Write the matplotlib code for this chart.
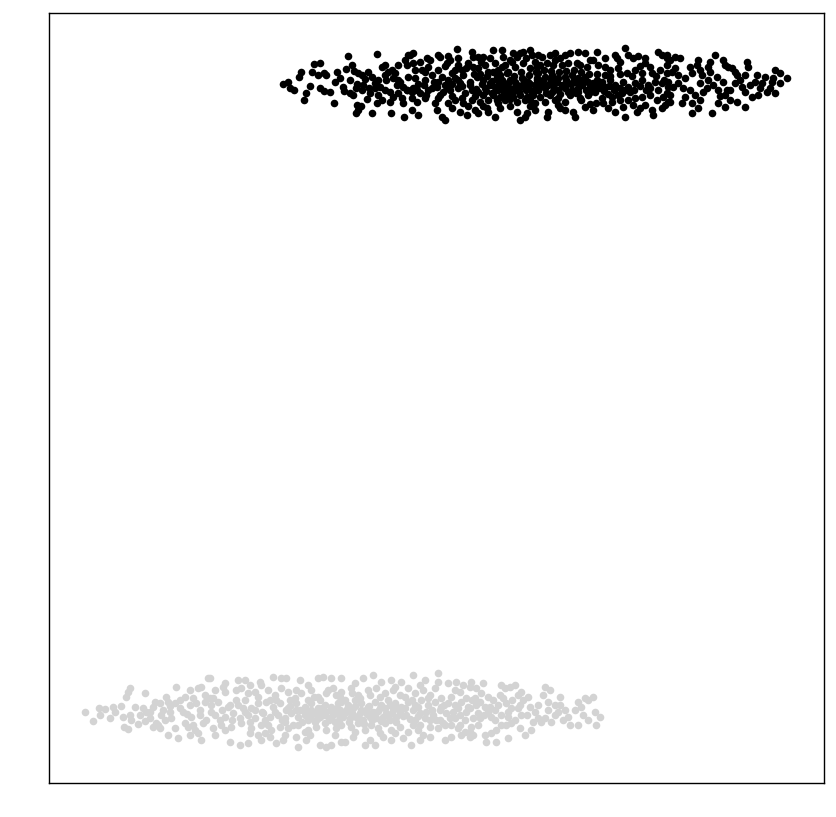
import numpy as np
from matplotlib import pyplot as plt

# point positions (x to the right, y downwards)
black_points = [
    (283, 84), (288, 82), (290, 88), (294, 90), (301, 72), (299, 77), (314, 64), (320, 63), (312, 72), (318, 75),
    (324, 73), (326, 75), (310, 86), (306, 93), (304, 100), (320, 88), (324, 91), (334, 103), (335, 82), (337, 72),
    (348, 56), (346, 69), (352, 65), (354, 71), (358, 73), (362, 75), (343, 87), (344, 91), (350, 93), (353, 95),
    (357, 84), (356, 88), (365, 79), (363, 85), (369, 88), (370, 93), (367, 99), (357, 105), (361, 106), (358, 110),
    (356, 113), (372, 113), (377, 54), (372, 77), (375, 83), (378, 80), (382, 67), (385, 65), (388, 72), (380, 87),
    (385, 90), (378, 95), (382, 100), (377, 103), (392, 70), (395, 73), (393, 78), (398, 80), (397, 85), (390, 92),
    (393, 97), (390, 102), (398, 93), (402, 98), (403, 103), (391, 113), (404, 117), (405, 60), (408, 55), (403, 87),
    (407, 90),
    (410, 55), (413, 53), (427, 58), (438, 55), (440, 57), (448, 56), (457, 49), (458, 58), (472, 52), (473, 57),
    (478, 57), (483, 57), (493, 50), (502, 50), (503, 57), (513, 53), (517, 57), (520, 53), (523, 52), (530, 50),
    (532, 55), (538, 55),
    (407, 65), (413, 63), (420, 62), (422, 70), (428, 67), (438, 70), (447, 63), (450, 60), (458, 65), (462, 70),
    (468, 63), (473, 67), (478, 68), (485, 65), (488, 72), (495, 63), (502, 67), (505, 65), (508, 72), (515, 67),
    (523, 63), (530, 68), (537, 67),
    (408, 77), (415, 78), (425, 80), (432, 75), (442, 77), (448, 80), (455, 78), (463, 75), (470, 82), (477, 77),
    (483, 80), (490, 83), (497, 77), (502, 80), (508, 83), (515, 82), (522, 78), (528, 82), (537, 80),
    (407, 90), (413, 88), (420, 93), (428, 90), (437, 87), (443, 92), (450, 90), (458, 88), (465, 93), (472, 90),
    (478, 92), (485, 88), (492, 93), (498, 90), (505, 88), (512, 93), (518, 90), (525, 88), (532, 93), (538, 90),
    (490, 85), (495, 87), (502, 85), (508, 87), (515, 87), (522, 85), (528, 87), (535, 85),
    (493, 95), (500, 97), (507, 95), (513, 97), (520, 95), (527, 97), (533, 95),
    (412, 98), (417, 102), (425, 98), (435, 103), (438, 98), (448, 103), (455, 100), (463, 103), (472, 100), (480, 102),
    (488, 100), (498, 103), (505, 100), (517, 102), (525, 100), (535, 103),
    (412, 110), (418, 115), (437, 110), (442, 117), (445, 120), (452, 108), (460, 112), (467, 115), (475, 110), (478, 113),
    (487, 108), (488, 112), (495, 117), (517, 112), (520, 120), (525, 117), (527, 113), (535, 110),
    (542, 57), (550, 55), (555, 53), (560, 58), (565, 55), (570, 53), (578, 52), (585, 53), (597, 52), (593, 60),
    (615, 55), (617, 58), (625, 48), (628, 55), (633, 58), (645, 63), (645, 58), (650, 67), (658, 52), (662, 55),
    (667, 58),
    (540, 65), (547, 63), (553, 65), (562, 65), (568, 63), (577, 63), (587, 67), (598, 65), (605, 67), (610, 70),
    (618, 68), (627, 73), (635, 70), (642, 73), (652, 73), (660, 70), (667, 73),
    (538, 73), (545, 77), (552, 75), (558, 78), (565, 77), (572, 75), (578, 78), (585, 77), (542, 83), (548, 85),
    (555, 82), (562, 85), (568, 83), (575, 82), (582, 85), (538, 90), (545, 88), (552, 92), (558, 90), (565, 88),
    (572, 90), (578, 88),
    (588, 82), (593, 83), (597, 80), (602, 82), (605, 87), (610, 80), (615, 85), (623, 82), (628, 87), (635, 83),
    (642, 80), (648, 85), (655, 82), (662, 83), (668, 87),
    (540, 97), (550, 95), (558, 98), (565, 102), (570, 95), (580, 98), (588, 95), (595, 92), (602, 98), (612, 97),
    (622, 93), (630, 92), (635, 98), (642, 97), (650, 95), (657, 100), (663, 97), (668, 102),
    (548, 112), (547, 117), (558, 105), (565, 110), (573, 112), (575, 117), (585, 107), (593, 110), (603, 103), (608, 108),
    (615, 112), (623, 107), (625, 117), (633, 105), (637, 112), (645, 105), (652, 110), (653, 115), (662, 108), (665, 105),
    (667, 55), (670, 60), (675, 57), (680, 58), (667, 65), (672, 72), (668, 82), (673, 87), (667, 93), (670, 102),
    (682, 103), (678, 83), (683, 88), (685, 97), (690, 67), (692, 73), (697, 65), (698, 60), (702, 75), (700, 83),
    (703, 92), (707, 88), (708, 80), (708, 67), (710, 62), (715, 55), (717, 77), (718, 90), (723, 60), (725, 65),
    (728, 67), (732, 68), (723, 82), (727, 90), (725, 95), (730, 100), (735, 72), (737, 75), (735, 83), (742, 87),
    (745, 92), (747, 62), (748, 67), (757, 75), (755, 82), (762, 83), (765, 77), (767, 92), (772, 82), (775, 70),
    (780, 73), (773, 78), (787, 78), (775, 93), (780, 83), (692, 103), (698, 108), (692, 113), (712, 113), (718, 103),
    (725, 107), (737, 102), (745, 107), (752, 97), (758, 95),
    # dense core
    (470, 85), (476, 89), (482, 84), (486, 91), (492, 81), (496, 90), (499, 82), (504, 92), (510, 80), (511, 90),
    (516, 84), (519, 92), (524, 80), (526, 90), (530, 84), (533, 91), (537, 78), (540, 86), (543, 80), (546, 93),
    (549, 84), (551, 79), (554, 88), (557, 82), (560, 94), (562, 86), (566, 80), (568, 92), (571, 84), (574, 79),
    (576, 93), (579, 85), (583, 80), (586, 90), (590, 85), (594, 88), (599, 84), (604, 91), (609, 86), (614, 90),
    (620, 88), (480, 74), (487, 76), (493, 72), (500, 75), (507, 73), (514, 76), (521, 72), (529, 75), (536, 72),
    (544, 70), (551, 71), (559, 72), (566, 71), (574, 70), (581, 72), (589, 74), (597, 74), (445, 85), (452, 84),
    (460, 83), (432, 88), (424, 85), (417, 90), (400, 82), (386, 80), (375, 88), (362, 90), (455, 70), (440, 95),
    (462, 98), (581, 100), (596, 103), (612, 102), (628, 100), (650, 88), (678, 75), (700, 70), (713, 85), (740, 80),
    (760, 88),
    (415, 70), (430, 60), (445, 66), (452, 73), (466, 68), (481, 62), (490, 58), (510, 60), (526, 58), (535, 62),
    (418, 84), (434, 82), (447, 88), (462, 86), (475, 96), (483, 95), (497, 100), (510, 99), (530, 100), (426, 95),
    (452, 96), (468, 106), (483, 106), (500, 108), (510, 106), (530, 106), (545, 102), (555, 100), (578, 92), (590, 92),
    (600, 88), (608, 94), (618, 95), (625, 90), (634, 90), (640, 86), (646, 90), (658, 90), (610, 76), (620, 74),
    (632, 76), (640, 66), (656, 76), (664, 80), (590, 60), (605, 58), (620, 62), (638, 56), (675, 68), (685, 78),
    (690, 90), (695, 95), (710, 72), (720, 96), (745, 75), (750, 85), (605, 75), (580, 65), (555, 60), (512, 62),
    (498, 70), (474, 74), (458, 80), (438, 82), (425, 72), (412, 92), (398, 65), (385, 75), (368, 72), (350, 80),
    (340, 78), (330, 92), (560, 108), (590, 104), (620, 100), (640, 108), (670, 95), (700, 100), (730, 90), (770, 88),
]

gray_points = [
    (85, 712), (93, 721), (99, 708), (105, 709), (113, 707), (121, 706), (123, 717), (124, 727), (128, 729), (130, 715),
    (131, 720), (138, 724), (145, 721), (146, 712), (143, 708), (145, 693), (126, 697), (128, 692), (130, 688), (155, 702),
    (153, 707), (160, 703), (166, 697), (168, 702), (163, 710), (161, 715), (156, 723), (160, 728), (165, 720), (170, 712),
    (171, 718), (176, 687), (175, 703), (180, 708), (185, 697), (183, 712), (185, 723), (188, 727), (191, 717), (193, 698),
    (190, 690), (196, 703), (198, 688), (201, 687), (200, 710), (205, 702), (203, 723), (206, 720), (198, 733), (195, 730),
    (201, 740), (208, 678), (210, 698), (211, 712), (168, 735), (178, 738), (158, 725), (153, 727),
    (210, 678), (238, 680), (245, 680), (260, 682), (273, 677), (281, 678), (286, 678), (296, 690), (308, 685), (318, 678),
    (323, 677), (331, 678), (341, 678),
    (213, 698), (223, 687), (225, 692), (236, 690), (241, 688), (248, 693), (255, 692), (261, 685), (268, 690), (275, 695),
    (281, 688), (288, 692), (295, 698), (301, 693), (311, 690), (318, 697), (326, 693), (333, 688), (340, 697),
    (211, 705), (218, 702), (228, 707), (238, 705), (245, 700), (251, 708), (258, 703), (266, 702), (273, 707), (280, 703),
    (288, 708), (296, 703), (305, 707), (311, 703), (318, 708), (325, 705), (331, 707), (338, 703),
    (215, 715), (225, 717), (233, 713), (240, 718), (248, 715), (255, 718), (263, 713), (270, 717), (278, 715), (285, 718),
    (291, 713), (298, 717), (305, 715), (310, 718), (315, 713), (320, 717), (325, 715), (330, 718), (335, 713), (340, 717),
    (311, 710), (321, 712), (331, 710), (340, 712), (315, 722), (325, 723), (335, 722),
    (213, 728), (221, 725), (231, 727), (241, 723), (251, 728), (261, 725), (271, 730), (280, 727), (288, 728), (298, 725),
    (308, 730), (316, 727), (326, 730), (336, 728),
    (230, 742), (240, 745), (248, 743), (258, 735), (261, 740), (270, 737), (276, 743), (283, 740), (296, 737), (298, 747),
    (305, 732), (306, 740), (320, 745), (326, 747), (331, 745), (341, 742),
    (363, 678), (373, 675), (381, 682), (391, 680), (401, 682), (413, 675), (425, 680), (438, 673), (438, 682), (448, 683),
    (456, 682), (463, 685), (470, 687),
    (341, 692), (351, 688), (358, 695), (368, 690), (376, 688), (385, 693), (393, 690), (400, 695), (408, 688), (415, 693),
    (423, 690), (430, 695), (435, 688), (441, 698), (451, 697), (460, 692), (466, 698),
    (341, 702), (348, 705), (355, 700), (361, 703), (368, 707), (375, 702), (381, 705), (388, 700), (395, 703), (401, 707),
    (408, 702), (415, 705), (421, 700), (428, 705), (435, 702), (441, 707), (448, 703), (455, 705), (461, 702), (468, 707),
    (340, 710), (346, 712), (353, 708), (360, 713), (366, 710), (373, 712), (380, 708), (386, 713), (393, 710), (400, 712),
    (406, 715), (413, 710), (420, 713), (426, 712), (433, 715), (440, 710), (446, 713), (453, 712), (460, 715), (466, 712),
    (343, 717), (350, 718), (356, 717), (363, 720), (370, 717), (376, 718), (383, 717), (390, 720), (396, 717),
    (341, 725), (351, 727), (358, 723), (365, 730), (371, 725), (378, 728), (385, 723), (391, 730), (400, 727), (408, 732),
    (413, 725), (418, 730), (423, 735), (430, 727), (438, 728), (443, 723), (451, 725), (458, 728), (465, 732), (471, 727),
    (345, 742), (353, 737), (365, 745), (370, 740), (375, 745), (383, 737), (391, 740), (403, 738), (411, 745), (420, 740),
    (430, 737), (445, 740), (451, 737), (461, 735), (470, 737),
    (471, 682), (476, 688), (483, 683), (475, 698), (481, 693), (488, 697), (470, 708), (476, 705), (478, 713), (485, 707),
    (473, 718), (480, 718), (488, 712), (491, 717), (493, 700), (498, 705), (501, 685), (505, 688), (510, 687), (515, 685),
    (503, 698), (506, 703), (508, 712), (511, 708), (518, 695), (521, 692), (523, 700), (518, 708), (521, 715), (528, 697),
    (530, 707), (501, 715), (508, 717), (511, 723), (501, 725), (496, 730), (491, 733), (485, 735), (470, 732), (473, 735),
    (486, 742), (496, 742), (508, 738), (520, 728), (525, 735), (531, 730), (541, 722), (538, 718), (545, 687), (550, 690),
    (543, 695), (548, 702), (545, 718), (551, 722), (555, 715), (560, 697), (560, 705), (558, 712), (565, 710), (568, 717),
    (570, 725), (578, 725), (578, 702), (581, 707), (585, 698), (588, 700), (593, 697), (595, 712), (588, 720), (600, 717),
    (596, 725),
    # dense core
    (300, 710), (305, 712), (308, 720), (312, 714), (317, 719), (322, 708), (326, 712), (329, 720), (333, 715), (337, 708),
    (339, 720), (343, 714), (347, 709), (349, 722), (352, 713), (355, 706), (358, 716), (361, 710), (364, 724), (367, 714),
    (369, 706), (372, 720), (375, 715), (378, 711), (381, 721), (385, 708), (388, 716), (392, 713), (396, 722), (398, 708),
    (403, 716), (410, 719), (418, 716), (425, 718), (432, 710), (245, 712), (255, 710), (265, 720), (275, 712), (285, 722),
    (290, 706), (230, 705), (220, 720), (200, 715), (190, 705), (270, 700), (290, 700), (360, 698), (380, 697), (405, 697),
    (420, 725), (440, 720), (455, 718), (480, 702), (495, 710), (515, 720), (535, 712), (555, 705), (575, 710), (150, 718),
    (140, 715), (115, 712),
    (180, 700), (187, 714), (193, 725), (205, 695), (215, 690), (222, 710), (232, 720), (236, 700), (243, 708), (250, 722),
    (258, 697), (262, 712), (268, 725), (276, 700), (282, 720), (286, 710), (293, 725), (296, 710), (302, 722), (308, 700),
    (314, 697), (320, 700), (328, 690), (336, 695), (345, 700), (352, 693), (370, 695), (390, 705), (405, 708), (412, 700),
    (418, 707), (428, 698), (436, 720), (444, 705), (450, 718), (458, 708), (465, 720), (472, 700), (478, 725), (484, 715),
    (490, 707), (495, 720), (500, 695), (506, 725), (512, 700), (520, 705), (527, 715), (533, 722), (538, 705), (548, 710),
    (563, 720), (583, 715), (250, 733), (265, 733), (285, 735), (310, 735), (335, 735), (355, 732), (380, 733), (395, 733),
    (415, 720), (430, 720), (445, 725), (460, 725), (100, 715), (110, 718), (135, 707), (150, 712), (170, 706), (175, 728),
    (190, 735), (215, 735), (225, 730), (225, 683), (250, 685), (300, 680), (355, 683), (395, 687), (420, 685), (455, 690),
]

black = np.array(black_points)
gray = np.array(gray_points)

fig = plt.figure(figsize=(8.37, 8.17), dpi=100)
ax = fig.add_axes([49 / 837, 34 / 817, 775 / 837, 770 / 817])

ax.scatter(black[:, 0], black[:, 1], s=30, c="black", linewidths=0)
ax.scatter(gray[:, 0], gray[:, 1], s=30, c="#d3d3d3", linewidths=0)

ax.set_xlim(49, 824)
ax.set_ylim(783, 13)
ax.set_xticks([])
ax.set_yticks([])
for spine in ax.spines.values():
    spine.set_linewidth(1)

fig.savefig("out.png", dpi=100)
